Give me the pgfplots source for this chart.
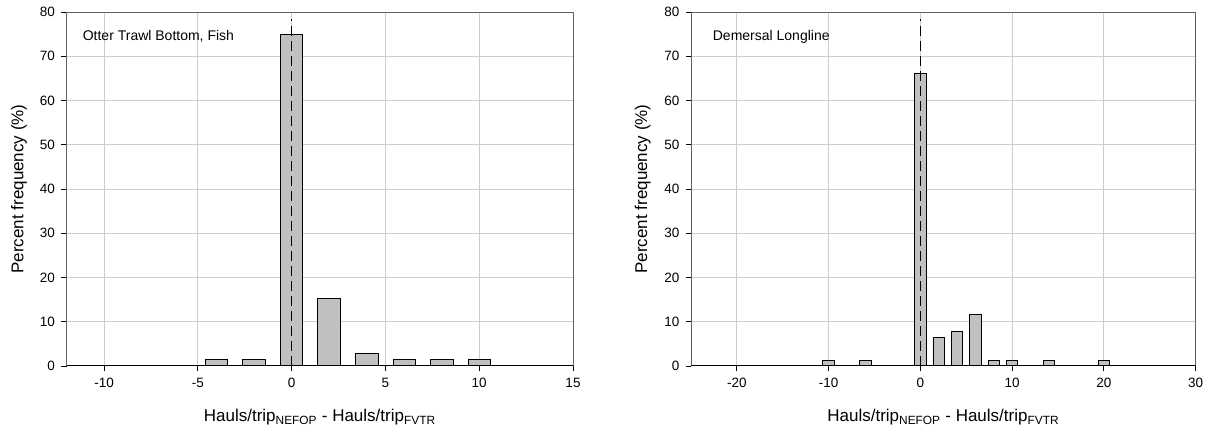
\documentclass[border=0pt]{standalone}
\usepackage{pgfplots}
\pgfplotsset{compat=1.18}
\usepackage{fontspec}
\setmainfont{Liberation Sans}
\definecolor{barfill}{RGB}{192,192,192}
\definecolor{gridc}{RGB}{205,205,205}
\pgfplotsset{
  hist/.style={
    scale only axis,
    anchor=south west,
    height=354pt,
    ymin=0, ymax=80,
    ytick={0,10,...,80},
    tick align=outside,
    major tick length=5pt,
    xtick pos=bottom, ytick pos=left,
    grid=major,
    major grid style={draw=gridc, line width=1pt},
    axis line style={draw=black!62, line width=1pt},
    tick style={draw=black, line width=0.8pt},
    /pgf/number format/assume math mode=true,
    ticklabel style={font=\fontsize{13.5}{15}\selectfont},
    yticklabel style={xshift=-3pt},
    xticklabel style={yshift=-4pt},
    label style={font=\fontsize{17}{19}\selectfont},
    xlabel style={at={(axis description cs:0.5,0)}, anchor=base, yshift=-55.7pt},
    xlabel={Hauls/trip\textsubscript{NEFOP} - Hauls/trip\textsubscript{FVTR}},
    ylabel={Percent frequency (\%)},
  },
  barsty/.style={ybar, fill=barfill, draw=black, line width=0.8pt},
  zeroline/.style={black, line width=0.9pt, dash pattern=on 10pt off 5pt, sharp plot, mark=none, forget plot},
}
\begin{document}
\begin{tikzpicture}[x=1pt,y=1pt]
\useasboundingbox (0,0) rectangle (1215,436);
% Left panel
\begin{axis}[hist, at={(66.5pt,70pt)}, width=506.5pt,
  xmin=-12, xmax=15, xtick={-10,-5,0,5,10,15},
  every axis y label/.style={at={(axis description cs:-0.0938,0.5)}, rotate=90, anchor=center, font=\fontsize{17}{19}\selectfont},
  bar width=1.2]
\addplot[barsty] coordinates {(-4,1.39) (-2,1.39) (0,75.0) (2,15.28) (4,2.78) (6,1.39) (8,1.39) (10,1.39)};
\addplot[zeroline] coordinates {(0,0) (0,78.4)};
\draw[black, line width=1pt] (rel axis cs:0,0) -- (rel axis cs:1,0);
\node[anchor=west, font=\fontsize{14}{16}\selectfont] at (axis cs:-11.32,74.6) {Otter Trawl Bottom, Fish};
\end{axis}
% Right panel
\begin{axis}[hist, at={(691pt,70pt)}, width=504.5pt,
  xmin=-25, xmax=30, xtick={-20,-10,0,10,20,30},
  every axis y label/.style={at={(axis description cs:-0.0959,0.5)}, rotate=90, anchor=center, font=\fontsize{17}{19}\selectfont},
  bar width=1.25]
\addplot[barsty] coordinates {(-10,1.30) (-6,1.30) (0,66.23) (2,6.49) (4,7.79) (6,11.69) (8,1.30) (10,1.30) (14,1.30) (20,1.30)};
\addplot[zeroline] coordinates {(0,0) (0,78.4)};
\draw[black, line width=1pt] (rel axis cs:0,0) -- (rel axis cs:1,0);
\node[anchor=west, font=\fontsize{14}{16}\selectfont] at (axis cs:-23.0,74.3) {Demersal Longline};
\end{axis}
\end{tikzpicture}
\end{document}
